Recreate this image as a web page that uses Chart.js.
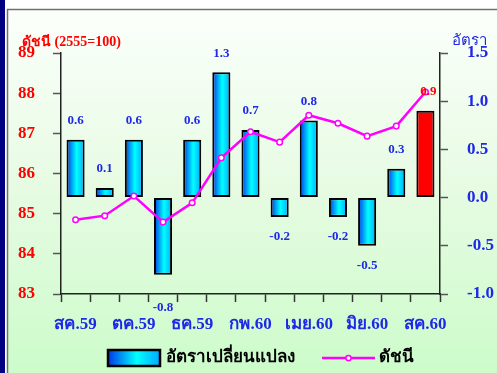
<!DOCTYPE html>
<html>
<head>
<meta charset="utf-8">
<script src="https://cdn.jsdelivr.net/npm/chart.js@4.4.0/dist/chart.umd.min.js"></script>
<style>
  html, body { margin: 0; padding: 0; background: #fff; }
  #wrap { width: 497px; height: 373px; position: relative; }
</style>
</head>
<body>
<div id="wrap"><canvas id="chart" width="497" height="373"></canvas></div>
<script>
// months (Thai short names), only every second one is shown on the axis
const months = ["สค.59", "กย.59", "ตค.59", "พย.59", "ธค.59", "มค.60", "กพ.60",
                "มีค.60", "เมย.60", "พค.60", "มิย.60", "กค.60", "สค.60"];
// rate of change (right axis)
const rateValues = [0.6, 0.1, 0.6, -0.8, 0.6, 1.3, 0.7, -0.2, 0.8, -0.2, -0.5, 0.3, 0.9];
// index 2555=100 (left axis)
const indexValues = [84.85, 84.95, 85.44, 84.79, 85.27, 86.39, 87.04, 86.78, 87.45, 87.25, 86.93, 87.18, 88.03];
const leftTicks = [83, 84, 85, 86, 87, 88, 89];
const rightTicks = [-1.0, -0.5, 0.0, 0.5, 1.0, 1.5];

const serif = '"Liberation Serif", "Times New Roman", "DejaVu Serif", serif';
const blueText = "#1e28e6";
const lastIdx = rateValues.length - 1;

function barGradient(ctx, left, right) {
    const g = ctx.createLinearGradient(left, 0, right, 0);
    g.addColorStop(0, "#0036e8");
    g.addColorStop(0.55, "#00ffff");
    g.addColorStop(1, "#00a8ff");
    return g;
}

const backgroundPlugin = {
    id: "panelBg",
    beforeDraw(chart) {
        const c = chart.ctx;
        const w = chart.width, h = chart.height;
        c.save();
        c.fillStyle = "#ffffff";
        c.fillRect(0, 0, w, h);
        c.fillStyle = "#000080";
        c.fillRect(0, 0, 5, h);
        const g = c.createLinearGradient(0, 10, 0, h);
        g.addColorStop(0, "#fbfffb");
        g.addColorStop(0.5, "#e6fbe2");
        g.addColorStop(1, "#ccfcca");
        c.fillStyle = g;
        c.fillRect(8, 10, w - 8, h - 10);
        c.strokeStyle = "#6f6f6f";
        c.lineWidth = 1.5;
        c.beginPath();
        c.moveTo(7.5, h);
        c.lineTo(7.5, 9.5);
        c.lineTo(w, 9.5);
        c.stroke();
        c.restore();
    }
};

const labelsPlugin = {
    id: "valueLabels",
    afterDatasetsDraw(chart) {
        const c = chart.ctx;
        const area = chart.chartArea;
        const meta = chart.getDatasetMeta(0);
        c.save();
        c.font = "bold 13px " + serif;
        c.textAlign = "center";
        c.textBaseline = "middle";
        meta.data.forEach((bar, i) => {
            const v = rateValues[i];
            let y;
            if (v >= 0) {
                y = bar.y - 19;
            } else {
                y = bar.y + 20;
                if (y + 7 > area.bottom) y = area.bottom + 14;
            }
            c.fillStyle = i === lastIdx ? "#ff0000" : blueText;
            c.fillText(v.toFixed(1), bar.x + (i === lastIdx ? 3 : 0), y);
        });

        // axis titles
        const yl = chart.scales.y, yr = chart.scales.y1;
        c.font = "bold 14px " + serif;
        c.textAlign = "left";
        c.fillStyle = "#ff0000";
        c.fillText("ดัชนี (2555=100)", yl.left + 22, area.top - 11);
        c.font = "15px " + serif;
        c.fillStyle = blueText;
        c.fillText("อัตรา", yr.left + 12, area.top - 12);

        // legend
        const ly = 358;
        const bx = 108, bw = 52, bh = 16;
        c.fillStyle = barGradient(c, bx, bx + bw);
        c.fillRect(bx, ly - bh / 2, bw, bh);
        c.lineWidth = 2.5;
        c.strokeStyle = "#000";
        c.strokeRect(bx, ly - bh / 2, bw, bh);
        c.font = "bold 17px " + serif;
        c.fillStyle = "#000";
        c.textAlign = "left";
        c.fillText("อัตราเปลี่ยนแปลง", bx + bw + 6, ly);
        c.strokeStyle = "#ff00ff";
        c.lineWidth = 2.5;
        c.beginPath();
        c.moveTo(322, ly);
        c.lineTo(375, ly);
        c.stroke();
        c.beginPath();
        c.arc(348.5, ly, 2.6, 0, Math.PI * 2);
        c.fillStyle = "#fff";
        c.fill();
        c.lineWidth = 1.5;
        c.stroke();
        c.fillStyle = "#000";
        c.fillText("ดัชนี", 379, ly);
        c.restore();
    }
};

const ctx = document.getElementById("chart").getContext("2d");
new Chart(ctx, {
    data: {
        labels: months,
        datasets: [
            {
                type: "bar",
                label: "อัตราเปลี่ยนแปลง",
                data: rateValues,
                yAxisID: "y1",
                order: 1,
                barPercentage: 0.62,
                categoryPercentage: 1,
                borderColor: "#000",
                borderWidth: 2,
                borderSkipped: false,
                backgroundColor: function (context) {
                    const chart = context.chart;
                    const i = context.dataIndex;
                    if (i === lastIdx) return "#ff0000";
                    const xs = chart.scales.x;
                    if (!xs || i === undefined) return "#00ffff";
                    const cx = xs.getPixelForValue(i);
                    const half = xs.width / months.length * 0.62 / 2;
                    if (!isFinite(cx) || !isFinite(half) || half <= 0) return "#00ffff";
                    return barGradient(chart.ctx, cx - half, cx + half);
                }
            },
            {
                type: "line",
                label: "ดัชนี",
                data: indexValues,
                yAxisID: "y",
                order: 0,
                borderColor: "#ff00ff",
                borderWidth: 2.5,
                pointRadius: 2.8,
                pointBackgroundColor: "#ffffff",
                pointBorderColor: "#ff00ff",
                pointBorderWidth: 1.5,
                tension: 0
            }
        ]
    },
    options: {
        responsive: false,
        animation: false,
        layout: { padding: { top: 53, left: 0, right: 0, bottom: 0 } },
        plugins: {
            legend: { display: false },
            tooltip: { enabled: false }
        },
        scales: {
            x: {
                offset: true,
                afterFit: s => { s.height = 79; },
                grid: {
                    offset: true,
                    drawOnChartArea: false,
                    drawTicks: true,
                    tickLength: 8,
                    tickWidth: 1.5,
                    tickColor: "#333"
                },
                border: { display: true, color: "#222", width: 1.5 },
                ticks: {
                    autoSkip: false,
                    maxRotation: 0,
                    padding: 12,
                    color: blueText,
                    font: { family: serif, size: 17, weight: "bold" },
                    callback: (val, i) => (i % 2 === 0 ? months[i] : "")
                }
            },
            y: {
                position: "left",
                min: 83,
                max: 89,
                afterFit: s => { s.width = 61; },
                afterBuildTicks: s => { s.ticks = leftTicks.map(v => ({ value: v })); },
                grid: {
                    drawOnChartArea: false,
                    tickLength: 8,
                    tickWidth: 1.5,
                    tickColor: "#555"
                },
                border: { display: true, color: "#222", width: 1.5 },
                ticks: {
                    padding: 18,
                    color: "#ff0000",
                    font: { family: serif, size: 17, weight: "bold" }
                }
            },
            y1: {
                position: "right",
                min: -1,
                max: 1.5,
                afterFit: s => { s.width = 57; },
                afterBuildTicks: s => { s.ticks = rightTicks.map(v => ({ value: v })); },
                grid: {
                    drawOnChartArea: false,
                    tickLength: 8,
                    tickWidth: 1.5,
                    tickColor: "#555"
                },
                border: { display: true, color: "#222", width: 1.5 },
                ticks: {
                    padding: 19,
                    color: blueText,
                    font: { family: serif, size: 17, weight: "bold" },
                    callback: v => v.toFixed(1)
                }
            }
        }
    },
    plugins: [backgroundPlugin, labelsPlugin]
});
</script>
</body>
</html>
